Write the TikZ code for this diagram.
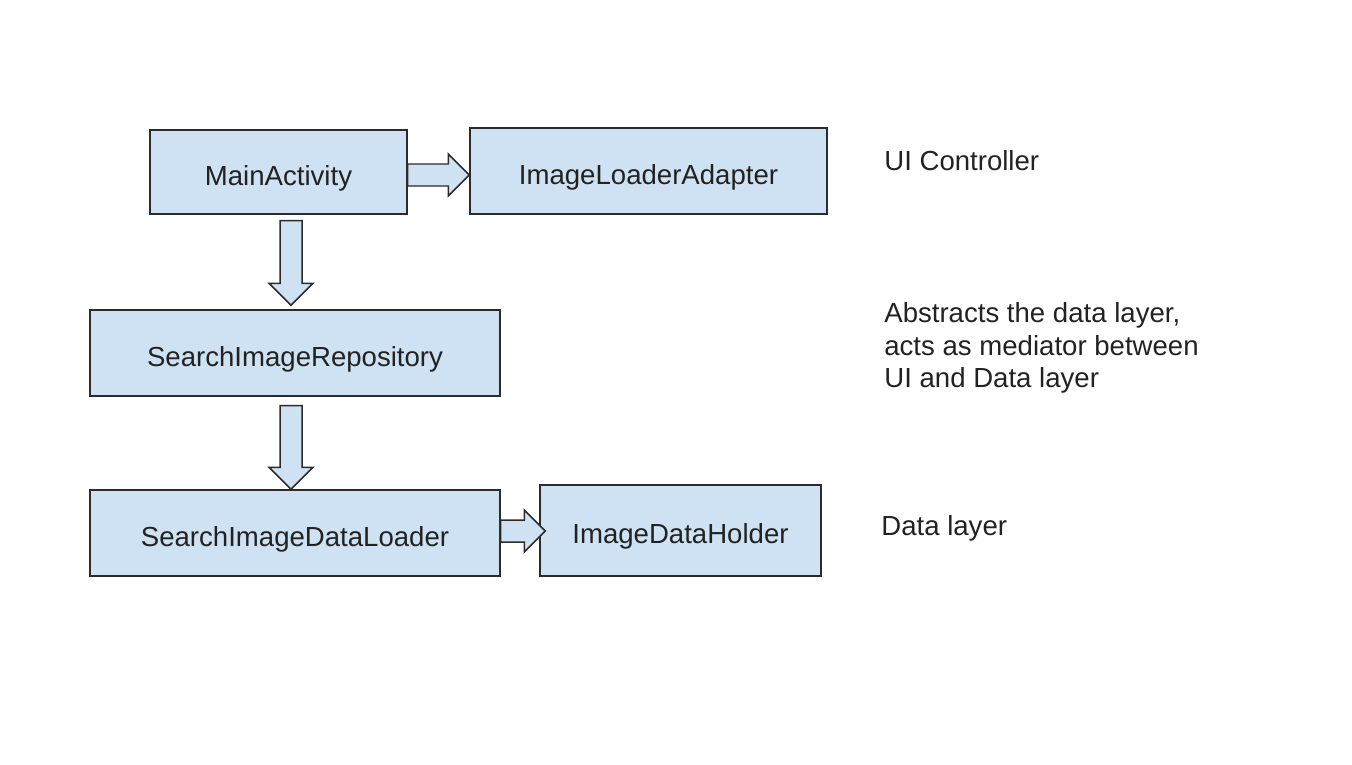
\documentclass[tikz,border=0pt]{standalone}
\usepackage{fontspec}
\setmainfont{Liberation Sans}
\usetikzlibrary{calc}
\definecolor{boxfill}{HTML}{CFE2F3}
\definecolor{edge}{HTML}{2B2B2B}
\definecolor{ink}{HTML}{222222}
\newlength\ux
\setlength\ux{0.02cm}
\tikzset{
  box/.style={draw=edge, fill=boxfill, line width=0.85pt, inner sep=0pt, text=ink,
    text height=15pt, text depth=0pt,
    font=\fontsize{15.7}{18.7}\selectfont},
  note/.style={inner sep=0pt, text=ink, align=left, anchor=west,
    font=\fontsize{15.7}{18.7}\selectfont},
  barrow/.style={draw=edge, fill=boxfill, line width=0.85pt, line join=miter}
}
% right-pointing block arrow: from point #1 (y taken from it) to tip x of point #2
\newcommand{\rblock}[2]{%
  \draw[barrow] let \p1=#1, \p2=#2 in
    (\x1,\y1+11*\ux) -- (\x2-21*\ux,\y1+11*\ux) -- (\x2-21*\ux,\y1+21*\ux) -- (\x2,\y1)
    -- (\x2-21*\ux,\y1-21*\ux) -- (\x2-21*\ux,\y1-11*\ux) -- (\x1,\y1-11*\ux) -- cycle;}
% down-pointing block arrow: from point #1 (x taken from it) to tip y of point #2
\newcommand{\dblock}[2]{%
  \draw[barrow] let \p1=#1, \p2=#2 in
    (\x1-11*\ux,\y1) -- (\x1-11*\ux,\y2+22*\ux) -- (\x1-22*\ux,\y2+22*\ux) -- (\x1,\y2)
    -- (\x1+22*\ux,\y2+22*\ux) -- (\x1+11*\ux,\y2+22*\ux) -- (\x1+11*\ux,\y1) -- cycle;}
\begin{document}
\begin{tikzpicture}[x=0.02cm, y=-0.02cm]
\useasboundingbox (0,0) rectangle (1352,764);
\node[box, minimum width=5.14cm, minimum height=1.68cm] (ma) at (278.5,172) {MainActivity};
\node[box, minimum width=7.14cm, minimum height=1.72cm] (ila) at (648.5,171) {ImageLoaderAdapter};
\node[box, minimum width=8.2cm, minimum height=1.72cm] (repo) at (295,353) {SearchImageRepository};
\node[box, minimum width=8.2cm, minimum height=1.72cm] (loader) at (295,533) {SearchImageDataLoader};
\node[box, minimum width=5.62cm, minimum height=1.82cm] (holder) at (680.5,530.5) {ImageDataHolder};

\node[note] (n1) at (884,161) {UI Controller};
\node[note] (n2) at (884,348) {Abstracts the data layer,\\acts as mediator between\\UI and Data layer};
\node[note] (n3) at (881,528) {Data layer};

\rblock{($(ma.east)+(0,3)$)}{(ila.west)}
\dblock{($(ma.south)+(12.5,6)$)}{($(repo.north)+(0,-4)$)}
\dblock{($(repo.south)+(-4,9)$)}{(loader.north)}
\rblock{($(loader.east)+(0,-2)$)}{($(holder.west)+(6,0)$)}
\end{tikzpicture}
\end{document}
